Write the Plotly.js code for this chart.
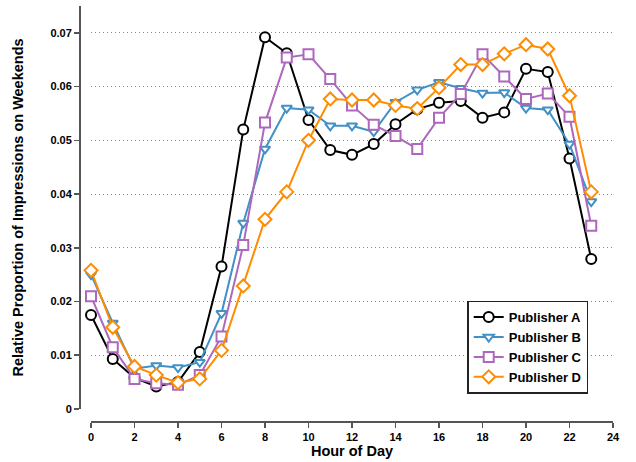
<!DOCTYPE html>
<html>
<head>
<meta charset="utf-8">
<script src="https://cdn.plot.ly/plotly-3.0.1.min.js"></script>
<style>html,body{margin:0;padding:0;background:#fff;}#chart{width:636px;height:462px;}</style>
</head>
<body>
<div id="chart"></div>
<script>
const hours = [0,1,2,3,4,5,6,7,8,9,10,11,12,13,14,15,16,17,18,19,20,21,22,23];
const publisherA = [0.0175,0.0093,0.0058,0.0042,0.0050,0.0106,0.0265,0.0520,0.0692,0.0662,0.0538,0.0482,0.0473,0.0493,0.0530,0.0558,0.0570,0.0573,0.0542,0.0552,0.0633,0.0627,0.0466,0.0279];
const publisherB = [0.0250,0.0160,0.0075,0.0081,0.0077,0.0087,0.0178,0.0346,0.0484,0.0560,0.0557,0.0527,0.0527,0.0516,0.0571,0.0594,0.0608,0.0597,0.0588,0.0589,0.0560,0.0557,0.0493,0.0386];
const publisherC = [0.0210,0.0115,0.0056,0.0048,0.0045,0.0063,0.0135,0.0305,0.0533,0.0654,0.0660,0.0614,0.0565,0.0529,0.0508,0.0484,0.0542,0.0586,0.0660,0.0619,0.0577,0.0587,0.0544,0.0341];
const publisherD = [0.0258,0.0152,0.0079,0.0063,0.0049,0.0056,0.0109,0.0229,0.0353,0.0404,0.0500,0.0577,0.0575,0.0575,0.0565,0.0559,0.0598,0.0641,0.0641,0.0661,0.0678,0.0670,0.0583,0.0404];
const seriesNames = ["Publisher A","Publisher B","Publisher C","Publisher D"];
const xTickVals = [0,2,4,6,8,10,12,14,16,18,20,22,24];
const yTickVals = [0,0.01,0.02,0.03,0.04,0.05,0.06,0.07];
const yTickText = ["0","0.01","0.02","0.03","0.04","0.05","0.06","0.07"];

const colors = ["#000000","#4190c6","#ad68bd","#ff8c00"];
const symbols = ["circle","triangle-down","square","diamond"];
const allY = [publisherA, publisherB, publisherC, publisherD];

const traces = allY.map((ys, i) => ({
  x: hours, y: ys, name: seriesNames[i], type: "scatter", mode: "lines+markers",
  cliponaxis: false,
  line: {color: colors[i], width: 2},
  marker: {symbol: symbols[i], size: i === 1 ? 9 : 10, color: "#ffffff", line: {color: colors[i], width: 2}}
}));

const fam = "Liberation Sans, Arial, sans-serif";
const tickFont = {family: fam, size: 11, color: "#000", weight: "bold"};
const layout = {
  width: 636, height: 462,
  margin: {l: 79, r: 23, t: 6, b: 41, pad: 0},
  paper_bgcolor: "#fff", plot_bgcolor: "#fff",
  showlegend: true,
  legend: {
    x: 0.727, y: 0.29, xanchor: "left", yanchor: "top",
    bgcolor: "#fff", bordercolor: "#222", borderwidth: 1.5,
    font: {family: fam, size: 13, color: "#000", weight: "bold"},
    tracegroupgap: 0, itemwidth: 30
  },
  xaxis: {
    domain: [0.0225, 1], anchor: "free", position: 0,
    range: [0, 24], tickvals: xTickVals, ticks: "outside", ticklen: 5, tickwidth: 1.5, tickcolor: "#555",
    showline: true, linecolor: "#555", linewidth: 1.5, showgrid: false, zeroline: false,
    tickfont: tickFont,
    title: {text: "Hour of Day", font: {family: fam, size: 14.5, color: "#000", weight: "bold"}, standoff: 4}
  },
  yaxis: {
    domain: [0.029, 1], anchor: "free", position: 0,
    range: [0, 0.075], tickvals: yTickVals, ticktext: yTickText, ticks: "outside", ticklen: 5, tickwidth: 1.5, tickcolor: "#555",
    showline: true, linecolor: "#555", linewidth: 1.5,
    showgrid: true, gridcolor: "#888", griddash: "1px,3px", gridwidth: 1, zeroline: false,
    tickfont: tickFont,
    title: {text: "Relative Proportion of Impressions on Weekends", font: {family: fam, size: 14.5, color: "#000", weight: "bold"}, standoff: 22}
  }
};
Plotly.newPlot("chart", traces, layout, {displayModeBar: false, staticPlot: true});
</script>
</body>
</html>
